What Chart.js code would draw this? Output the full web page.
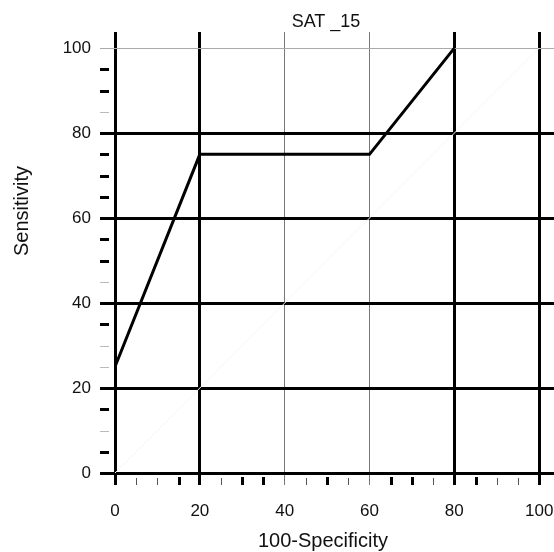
<!DOCTYPE html>
<html><head><meta charset="utf-8">
<script src="https://cdn.jsdelivr.net/npm/chart.js@4"></script>
<style>html,body{margin:0;padding:0;background:#fff}#wrap{width:554px;height:552px}</style>
</head><body><div id="wrap"><canvas id="c" width="554" height="552"></canvas></div>
<script>
const chartTitle = 'SAT _15';
const xTitle = '100-Specificity';
const yTitle = 'Sensitivity';
const rocX = [0, 20, 60, 80];
const rocY = [25, 75, 75, 100];
const refX = [0, 100];
const refY = [0, 100];
const xMajor = [0, 20, 40, 60, 80, 100];
const yMajor = [0, 20, 40, 60, 80, 100];
const xMinorBold = [15, 30, 35, 50, 65, 70, 85];
const xMinorThin = [5, 10, 25, 45, 55, 75, 90, 95];
const yMinorBold = [5, 15, 35, 50, 55, 65, 70, 75, 90, 95];
const yMinorThin = [10, 25, 30, 45, 85];
const xBoldGrid = [0, 20, 80, 100];
const yBoldGrid = [0, 20, 40, 60, 80];

const FONT = '"Liberation Sans", Arial, Helvetica, sans-serif';

const extras = {
  id: 'extras',
  afterDraw(chart) {
    const ctx = chart.ctx;
    const xs = chart.scales.x, ys = chart.scales.y;
    const bottom = chart.chartArea.bottom, left = chart.chartArea.left;
    ctx.save();
    xMinorBold.forEach(v => {
      const p = Math.round(xs.getPixelForValue(v));
      ctx.fillStyle = '#000';
      ctx.fillRect(p - 1, bottom + 4, 3, 8);
    });
    xMinorThin.forEach(v => {
      const p = Math.round(xs.getPixelForValue(v));
      ctx.fillStyle = '#555';
      ctx.fillRect(p, bottom + 5, 1, 7);
    });
    yMinorBold.forEach(v => {
      const p = Math.round(ys.getPixelForValue(v));
      ctx.fillStyle = '#000';
      ctx.fillRect(left - 15, p - 1, 9, 3);
    });
    yMinorThin.forEach(v => {
      const p = Math.round(ys.getPixelForValue(v));
      ctx.fillStyle = '#bbb';
      ctx.fillRect(left - 15, p, 9, 1);
    });
    ctx.fillStyle = '#111';
    ctx.textAlign = 'center';
    ctx.textBaseline = 'alphabetic';
    ctx.font = '18px ' + FONT;
    ctx.fillText(chartTitle, 326, 27);
    ctx.font = '20px ' + FONT;
    ctx.fillText(xTitle, 323, 547);
    ctx.translate(28, 211);
    ctx.rotate(-Math.PI / 2);
    ctx.fillText(yTitle, 0, 0);
    ctx.restore();
  }
};

new Chart(document.getElementById('c'), {
  type: 'line',
  data: {
    datasets: [
      {
        data: refX.map((x, i) => ({ x, y: refY[i] })),
        borderColor: '#f5f5f5', borderWidth: 1, pointRadius: 0, tension: 0, fill: false
      },
      {
        data: rocX.map((x, i) => ({ x, y: rocY[i] })),
        borderColor: '#000', borderWidth: 3, pointRadius: 0, tension: 0, fill: false
      }
    ]
  },
  options: {
    responsive: false,
    animation: false,
    devicePixelRatio: 1,
    layout: { padding: { top: 32, right: 0, left: 0, bottom: 0 } },
    plugins: { legend: { display: false }, tooltip: { enabled: false }, title: { display: false } },
    scales: {
      x: {
        type: 'linear', min: 0, max: 103.5,
        afterBuildTicks: s => { s.ticks = xMajor.map(v => ({ value: v })); },
        afterFit: s => { s.height = 79; s.paddingLeft = 0; s.paddingRight = 0; },
        border: { display: false },
        grid: {
          color: c => xBoldGrid.includes(c.tick.value) ? '#000' : '#777',
          lineWidth: c => xBoldGrid.includes(c.tick.value) ? 3 : 1,
          tickLength: 12,
          drawTicks: true
        },
        ticks: { color: '#111', font: { family: FONT, size: 17 }, padding: 16, maxRotation: 0 }
      },
      y: {
        type: 'linear', min: 0, max: 103.8,
        afterBuildTicks: s => { s.ticks = yMajor.map(v => ({ value: v })); },
        afterFit: s => { s.width = 115; s.paddingTop = 0; s.paddingBottom = 0; },
        border: { display: false },
        grid: {
          color: c => yBoldGrid.includes(c.tick.value) ? '#000' : '#aaa',
          lineWidth: c => yBoldGrid.includes(c.tick.value) ? 3 : 1,
          tickLength: 15,
          drawTicks: true
        },
        ticks: { color: '#111', font: { family: FONT, size: 17 }, padding: 9 }
      }
    }
  },
  plugins: [extras]
});
</script>
</body></html>
